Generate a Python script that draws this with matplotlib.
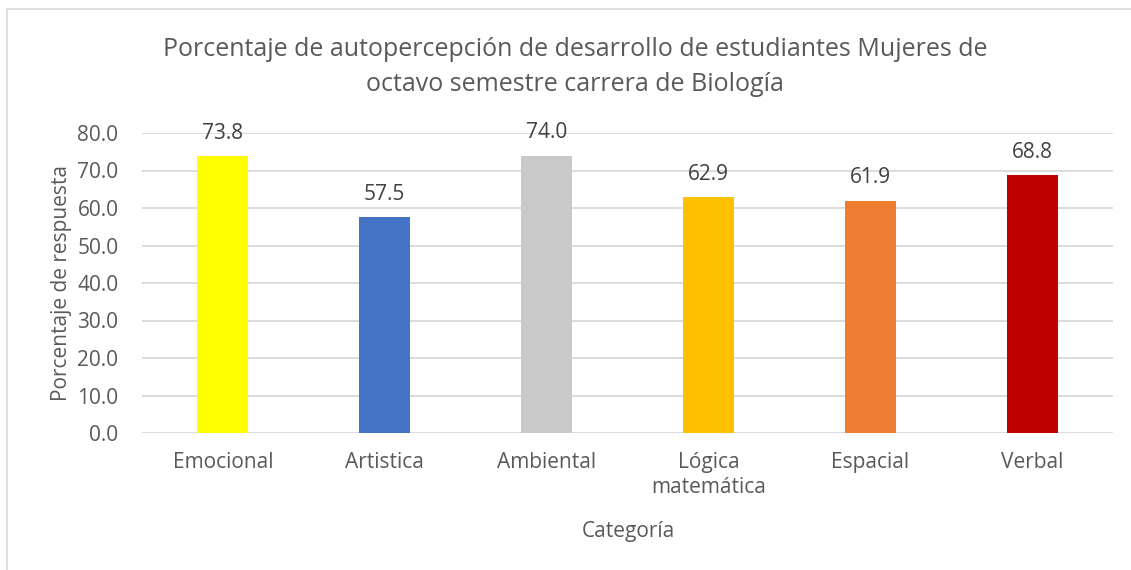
import numpy as np
import matplotlib.pyplot as plt
from matplotlib.patches import Rectangle

# data
categorias = ['Emocional', 'Artistica', 'Ambiental', 'Lógica\nmatemática', 'Espacial', 'Verbal']
valores = [73.8, 57.5, 74.0, 62.9, 61.9, 68.8]
colores = ['#FFFF00', '#4472C4', '#C9C9C9', '#FFC000', '#ED7D31', '#C00000']
yticks = [0, 10, 20, 30, 40, 50, 60, 70, 80]

plt.rcParams['font.family'] = ['Open Sans', 'DejaVu Sans']
txt = '#595959'

fig = plt.figure(figsize=(11.31, 5.70), dpi=100)
W, H = 1131, 570
ax = fig.add_axes([142 / W, 1 - 433 / H, (1113 - 142) / W, 300 / H])

x = np.arange(len(categorias))
bars = ax.bar(x, valores, width=0.315, color=colores, zorder=3)
for b, v in zip(bars, valores):
    ax.annotate('%.1f' % v, (b.get_x() + b.get_width() / 2, v), xytext=(0, 9),
                textcoords='offset points', ha='center', va='bottom',
                fontsize=15, color='#404040')

ax.set_xlim(-0.5, len(categorias) - 0.5)
ax.set_ylim(0, 80)
ax.set_yticks(yticks)
ax.set_yticklabels(['%.1f' % t for t in yticks])
ax.set_xticks(x)
ax.set_xticklabels(categorias, linespacing=1.2)
ax.tick_params(axis='y', length=0, pad=17, labelsize=15, labelcolor=txt)
ax.tick_params(axis='x', length=0, pad=14, labelsize=15, labelcolor=txt)
ax.grid(axis='y', color='#D9D9D9', linewidth=1.3, zorder=0)
for s in ax.spines.values():
    s.set_visible(False)

ax.set_ylabel('Porcentaje de respuesta', fontsize=15, color=txt, labelpad=4)
fig.text(628 / W, 1 - 531 / H, 'Categoría', ha='center', va='center', fontsize=15, color=txt)
fig.text(575 / W, 1 - 67 / H,
         'Porcentaje de autopercepción de desarrollo de estudiantes Mujeres de\noctavo semestre carrera de Biología',
         ha='center', va='center', fontsize=18, color=txt, linespacing=1.5)

# chart border
fig.patches.append(Rectangle((7 / W, -0.05), 1.2, 1 - 9 / H + 0.05, transform=fig.transFigure,
                             fill=False, edgecolor='#D9D9D9', linewidth=1.2))

fig.savefig('out.png', dpi=100)
